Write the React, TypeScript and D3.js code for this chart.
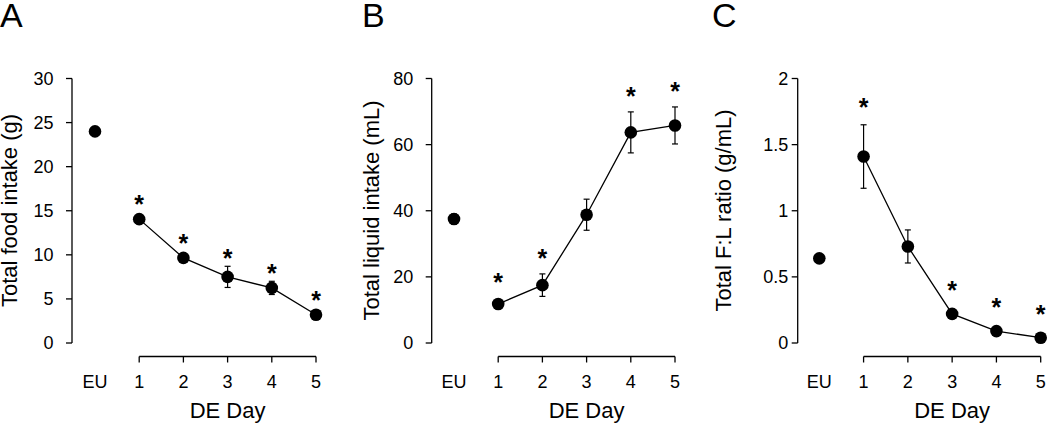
import React from "react";
import * as d3 from "d3";

const categories = ["EU", "1", "2", "3", "4", "5"];

const foodMean = [24, 14.05, 9.65, 7.5, 6.25, 3.2];
const foodErr = [0.3, 0.5, 0.4, 1.2, 0.75, 0.3];
const foodSig = [false, true, true, true, true, true];
const foodTicks = [0, 5, 10, 15, 20, 25, 30];

const liquidMean = [37.5, 11.8, 17.5, 38.8, 63.7, 65.8];
const liquidErr = [1.5, 1.0, 3.4, 4.7, 6.2, 5.6];
const liquidSig = [false, true, true, false, true, true];
const liquidTicks = [0, 20, 40, 60, 80];

const ratioMean = [0.64, 1.41, 0.73, 0.22, 0.09, 0.04];
const ratioErr = [0.02, 0.24, 0.125, 0.03, 0.015, 0.01];
const ratioSig = [false, true, false, true, true, true];
const ratioTicks = [0, 0.5, 1, 1.5, 2];

const FONT = "'Liberation Sans', Arial, Helvetica, sans-serif";

type PanelProps = {
  letter: string;
  letterX: number;
  axisX: number;
  x0: number;
  x5: number;
  yMax: number;
  ticks: number[];
  title: string;
  titleX: number;
  labelGap: number;
  mean: number[];
  err: number[];
  sig: boolean[];
  starOffset: number;
};

function Panel(p: PanelProps) {
  const x = d3.scaleLinear().domain([0, 5]).range([p.x0, p.x5]);
  const y = d3.scaleLinear().domain([0, p.yMax]).range([343, 78.5]);
  const xAxisY = 356.5;
  const r = 6.3;
  const starSize = 25;
  const line = d3
    .line<number>()
    .x((_, i) => x(i + 1))
    .y((d) => y(d));
  const days = p.mean.slice(1);
  const fmt = (v: number) => String(v);
  return (
    <g>
      <text x={p.letterX} y={27} fontSize={34} fontFamily={FONT}>
        {p.letter}
      </text>
      {/* y axis */}
      <line x1={p.axisX} x2={p.axisX} y1={y(0)} y2={y(p.yMax)} stroke="#000" strokeWidth={1.3} />
      {p.ticks.map((t) => (
        <g key={t}>
          <line x1={p.axisX - 6} x2={p.axisX} y1={y(t)} y2={y(t)} stroke="#000" strokeWidth={1.3} />
          <text
            x={p.axisX - p.labelGap}
            y={y(t)}
            dy="0.36em"
            textAnchor="end"
            fontSize={18}
            fontFamily={FONT}
          >
            {fmt(t)}
          </text>
        </g>
      ))}
      <text
        transform={`translate(${p.titleX},210.5) rotate(-90)`}
        textAnchor="middle"
        fontSize={22}
        fontFamily={FONT}
      >
        {p.title}
      </text>
      {/* x axis */}
      <line x1={x(1)} x2={x(5)} y1={xAxisY} y2={xAxisY} stroke="#000" strokeWidth={1.3} />
      {categories.map((c, i) => (
        <g key={c}>
          {i > 0 && (
            <line x1={x(i)} x2={x(i)} y1={xAxisY} y2={xAxisY + 6} stroke="#000" strokeWidth={1.3} />
          )}
          <text x={x(i)} y={387.5} textAnchor="middle" fontSize={18} fontFamily={FONT}>
            {c}
          </text>
        </g>
      ))}
      <text x={x(3)} y={418} textAnchor="middle" fontSize={22} fontFamily={FONT}>
        DE Day
      </text>
      {/* line */}
      <path d={line(days) || ""} fill="none" stroke="#000" strokeWidth={1.3} />
      {/* error bars */}
      {p.mean.map((m, i) => {
        const top = y(m + p.err[i]);
        const bot = y(m - p.err[i]);
        const cx = x(i);
        return (
          <g key={"e" + i}>
            <line x1={cx} x2={cx} y1={top} y2={bot} stroke="#000" strokeWidth={1.2} />
            <line x1={cx - 3} x2={cx + 3} y1={top} y2={top} stroke="#000" strokeWidth={1.2} />
            <line x1={cx - 3} x2={cx + 3} y1={bot} y2={bot} stroke="#000" strokeWidth={1.2} />
          </g>
        );
      })}
      {p.mean.map((m, i) => (
        <circle key={"c" + i} cx={x(i)} cy={y(m)} r={r} fill="#000" />
      ))}
      {p.mean.map((m, i) => {
        if (!p.sig[i]) return null;
        const top = Math.min(y(m + p.err[i]), y(m) - r);
        const cy = top - p.starOffset;
        return (
          <text
            key={"s" + i}
            x={x(i)}
            y={cy + 0.57 * starSize}
            textAnchor="middle"
            fontSize={starSize}
            fontWeight="bold"
            fontFamily={FONT}
          >
            *
          </text>
        );
      })}
    </g>
  );
}

export default function App() {
  return (
    <svg
      width={1050}
      height={425}
      style={{ position: "absolute", left: 0, top: 0, background: "#fff" }}
    >
      <rect width={1050} height={425} fill="#fff" />
      <Panel
        letter="A"
        letterX={0}
        axisX={72}
        x0={95}
        x5={316}
        yMax={30}
        ticks={foodTicks}
        title="Total food intake (g)"
        titleX={16.5}
        labelGap={18.5}
        mean={foodMean}
        err={foodErr}
        sig={foodSig}
        starOffset={14}
      />
      <Panel
        letter="B"
        letterX={362}
        axisX={431.7}
        x0={454}
        x5={675}
        yMax={80}
        ticks={liquidTicks}
        title="Total liquid intake (mL)"
        titleX={379}
        labelGap={18.4}
        mean={liquidMean}
        err={liquidErr}
        sig={liquidSig}
        starOffset={21}
      />
      <Panel
        letter="C"
        letterX={712}
        axisX={797.7}
        x0={819.3}
        x5={1040.7}
        yMax={2}
        ticks={ratioTicks}
        title="Total F:L ratio (g/mL)"
        titleX={731}
        labelGap={9.5}
        mean={ratioMean}
        err={ratioErr}
        sig={ratioSig}
        starOffset={23}
      />
    </svg>
  );
}
